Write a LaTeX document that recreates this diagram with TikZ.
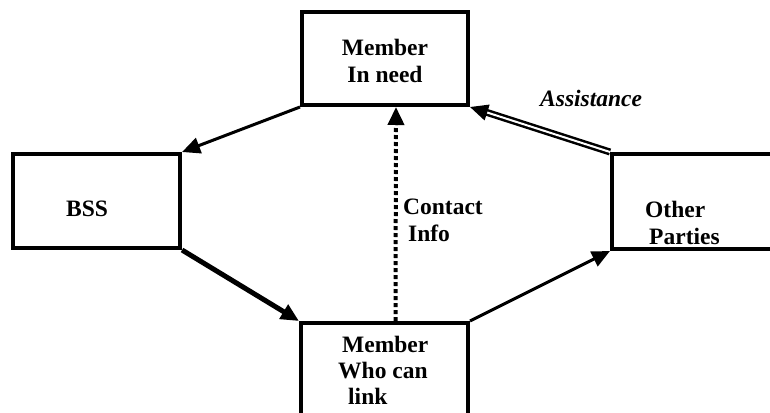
\documentclass[tikz,border=0pt]{standalone}
\usepackage{fontspec}
\setmainfont{Liberation Serif}
\usetikzlibrary{arrows.meta}

\begin{document}
\begin{tikzpicture}
	[
		x=1pt, y=-1pt,
		box/.style = {rectangle, draw=black, line width=4pt, fill=none, inner sep=0pt},
		txt/.style = {inner sep=0pt, font=\fontsize{23.5}{27}\selectfont\bfseries},
		flow/.style = {line width=3pt, -{Triangle[length=18pt,width=16pt]}},
	]

	\useasboundingbox (0,0) rectangle (770,412);
	\clip (0,0) rectangle (770,412);

	% boxes
	\node[box, minimum width=166pt, minimum height=93pt] (need) 	at ( 385.0,  58.5 ) {};
	\node[box, minimum width=167.5pt, minimum height=94pt] (bss) 	at (  96.3, 201.0 ) {};
	\node[box, minimum width=188pt, minimum height=95pt] (other) 	at ( 706.0, 201.5 ) {};
	\node[box, minimum width=167pt, minimum height=137pt] (linker) 	at ( 384.5, 391.5 ) {};

	% texts
	\node[txt, anchor=north, align=center] (needtxt) 	at ( 385, 39 ) {Member\\In need};
	\node[txt, anchor=north] (bsstxt) 	at (  87, 201 ) {BSS};
	\node[txt, anchor=north west, align=left] (othertxt) 	at ( 645, 201 ) {Other\\\hspace{4pt}Parties};
	\node[txt, anchor=north west, align=left, font=\fontsize{23.5}{26}\selectfont\bfseries] (linkertxt) 	at ( 338, 336 ) {\hspace{4pt}Member\\Who can\\\hspace{10pt}link};
	\node[txt, anchor=north west, align=left] (infotxt) 	at ( 403, 199 ) {Contact\\\hspace{5pt}Info};
	\node[txt, anchor=north west, font=\fontsize{23.5}{27}\selectfont\bfseries\itshape] (helptxt) 	at ( 540, 90 ) {Assistance};

	% connectors
	\draw[flow] (need.south west) -- (bss.north east);
	\draw[flow, line width=5pt] (bss.south east) -- (linker.north west);
	\draw[flow] (linker.north east) -- (other.south west);
	\draw[flow, double, line width=2.5pt, double distance=2pt] (other.north west) -- (need.south east);
	\draw[flow, line width=4pt, dash pattern=on 4pt off 3pt] ([xshift=11pt]linker.north) -- ([xshift=11pt]need.south);

\end{tikzpicture}
\end{document}
